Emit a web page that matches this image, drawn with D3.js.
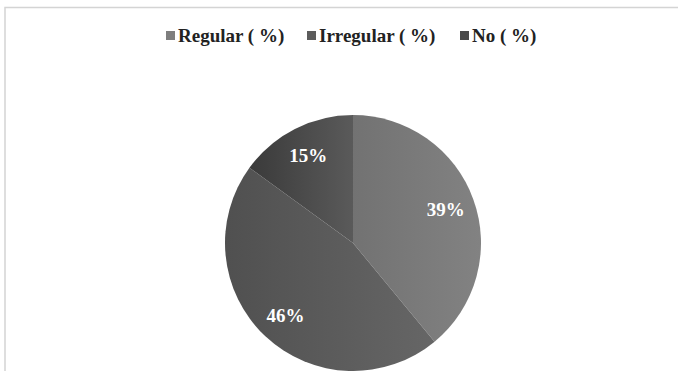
<!DOCTYPE html>
<html><head><meta charset="utf-8">
<script src="https://cdn.jsdelivr.net/npm/d3@7"></script>
<style>html,body{margin:0;padding:0;background:#fff;overflow:hidden}</style>
</head><body>
<svg id="chart" width="678" height="371"></svg>
<script>
const categories = ["Regular ( %)", "Irregular ( %)", "No ( %)"];
const values = [39, 46, 15];
const labels = ["39%", "46%", "15%"];
const colorsLeft = ["#727272", "#505050", "#3a3a3a"];
const colorsRight = ["#828282", "#666666", "#5a5a5a"];
const legendColors = ["#7e7e7e", "#5c5c5c", "#4a4a4a"];

const svg = d3.select("#chart");
const W = 678, H = 371;
const font = "'Liberation Serif','Times New Roman',serif";

svg.append("rect").attr("x", 5).attr("y", 7.5).attr("width", 700).attr("height", 400)
  .attr("fill", "#fff").attr("stroke", "#d4d4d4").attr("stroke-width", 1.5);

const defs = svg.append("defs");
categories.forEach((c, i) => {
  const g = defs.append("linearGradient").attr("id", "g" + i)
    .attr("x1", "0%").attr("y1", "0%").attr("x2", "100%").attr("y2", "0%");
  g.append("stop").attr("offset", "0%").attr("stop-color", colorsLeft[i]);
  g.append("stop").attr("offset", "100%").attr("stop-color", colorsRight[i]);
});

const cx = 353, cy = 243, R = 128;
const pie = d3.pie().sort(null).value(d => d);
const arcs = pie(values);
const arc = d3.arc().innerRadius(0).outerRadius(R);
const labelArc = d3.arc().innerRadius(R * 0.77).outerRadius(R * 0.77);

const g = svg.append("g").attr("transform", `translate(${cx},${cy})`);
g.selectAll("path.slice").data(arcs).enter().append("path")
  .attr("class", "slice")
  .attr("d", arc)
  .attr("fill", (d, i) => `url(#g${i})`)
  .attr("stroke", "none");

g.selectAll("text.lbl").data(arcs).enter().append("text")
  .attr("class", "lbl")
  .attr("transform", d => `translate(${labelArc.centroid(d)})`)
  .attr("text-anchor", "middle")
  .attr("dy", "0.35em")
  .attr("fill", "#fff")
  .attr("font-family", font)
  .attr("font-weight", "bold")
  .attr("font-size", 19)
  .text((d, i) => labels[i]);

// legend
const legendX = [166, 307, 460];
const leg = svg.append("g");
categories.forEach((c, i) => {
  leg.append("rect").attr("x", legendX[i]).attr("y", 31).attr("width", 9).attr("height", 9)
    .attr("fill", legendColors[i]);
  leg.append("text").attr("x", legendX[i] + 12).attr("y", 42)
    .attr("font-family", font).attr("font-weight", "bold").attr("font-size", 19)
    .attr("fill", "#222").text(c);
});
</script>
</body></html>
